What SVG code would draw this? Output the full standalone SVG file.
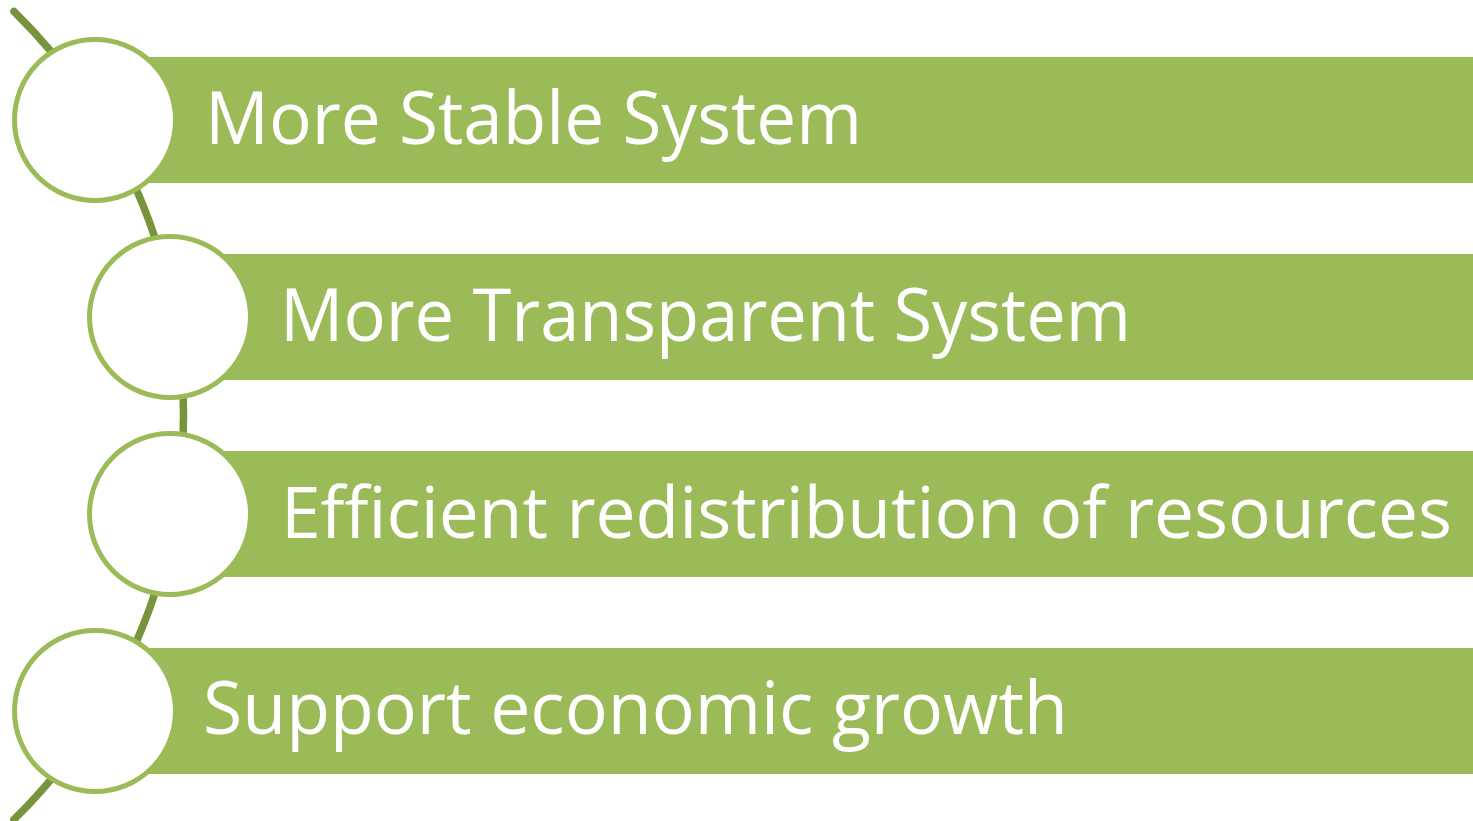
<svg xmlns="http://www.w3.org/2000/svg" width="1473" height="821" viewBox="0 0 1473 821">
  <style>
    .bar { fill: #9BBB59; }
    .node-circle { fill: #FFFFFF; stroke: #9BBB59; stroke-width: 5; }
    .label { fill: #FFFFFF; font-family: "Open Sans", "Noto Sans", sans-serif; font-size: 74px; }
    .arc { fill: none; stroke: #77933C; stroke-width: 7.5; stroke-linecap: round; }
  </style>
  <rect width="1473" height="821" fill="#FFFFFF"/>
  <g id="connectors">
    <path class="arc" d="M 14 11.5 A 566.2 566.2 0 0 1 14 819.5"/>
  </g>
  <g id="node1">
    <rect class="bar" x="95" y="57" width="1378" height="126"/>
    <circle class="node-circle" cx="95" cy="120" r="80.5"/>
    <text class="label" x="205" y="144" textLength="657" lengthAdjust="spacingAndGlyphs">More Stable System</text>
  </g>
  <g id="node2">
    <rect class="bar" x="170" y="254" width="1303" height="126"/>
    <circle class="node-circle" cx="170" cy="317" r="80.5"/>
    <text class="label" x="280" y="341" textLength="851" lengthAdjust="spacingAndGlyphs">More Transparent System</text>
  </g>
  <g id="node3">
    <rect class="bar" x="170" y="451" width="1303" height="126"/>
    <circle class="node-circle" cx="170" cy="514" r="80.5"/>
    <text class="label" x="281" y="538" font-size="71" style="font-size:71px" textLength="1171" lengthAdjust="spacingAndGlyphs">Efficient redistribution of resources</text>
  </g>
  <g id="node4">
    <rect class="bar" x="95" y="648" width="1378" height="126"/>
    <circle class="node-circle" cx="95" cy="711" r="80.5"/>
    <text class="label" x="203" y="734" textLength="865" lengthAdjust="spacingAndGlyphs">Support economic growth</text>
  </g>
</svg>
